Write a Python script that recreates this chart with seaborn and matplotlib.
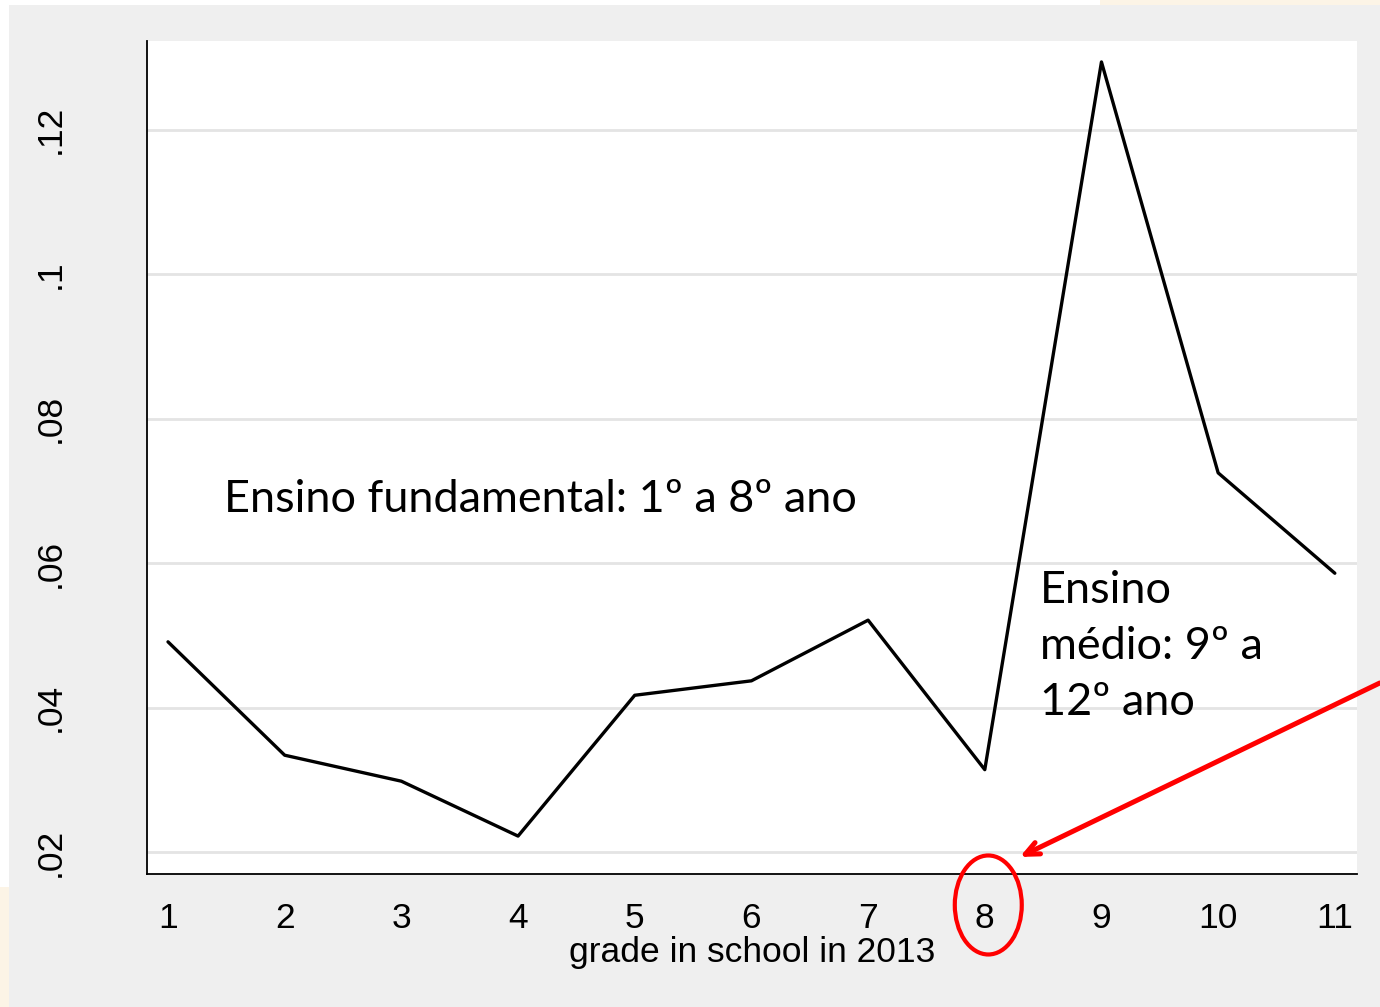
import numpy as np
import pandas as pd
import seaborn as sns
import matplotlib
matplotlib.use('Agg')
from matplotlib import pyplot as plt
from matplotlib.patches import Ellipse, Rectangle

# 数据
grades = [1, 2, 3, 4, 5, 6, 7, 8, 9, 10, 11]
values = [0.0491, 0.0334, 0.0298, 0.0222, 0.0417, 0.0437, 0.0521, 0.0314, 0.1294, 0.0725, 0.0586]
ytick_vals = [0.02, 0.04, 0.06, 0.08, 0.10, 0.12]
ytick_labels = ['.02', '.04', '.06', '.08', '.1', '.12']

df = pd.DataFrame({'grade': grades, 'value': values})

sns.set_style("white")
plt.rcParams['font.family'] = ['Liberation Sans', 'DejaVu Sans']
plt.rcParams['text.color'] = 'black'
plt.rcParams['axes.labelcolor'] = 'black'
plt.rcParams['xtick.color'] = 'black'
plt.rcParams['ytick.color'] = 'black'

fig = plt.figure(figsize=(13.8, 10.07), dpi=100, facecolor='white')

# 背景（幻灯片的灰色面板和米色角落）
fig.patches.append(Rectangle((0, 0), 9 / 1380, 120 / 1007, transform=fig.transFigure,
                             facecolor='#fcf4e6', edgecolor='none', zorder=-3))
fig.patches.append(Rectangle((1100 / 1380, 1002 / 1007), 280 / 1380, 5 / 1007, transform=fig.transFigure,
                             facecolor='#fcf4e6', edgecolor='none', zorder=-3))
fig.patches.append(Rectangle((9 / 1380, 0), 1 - 9 / 1380, 1002 / 1007, transform=fig.transFigure,
                             facecolor='#efefef', edgecolor='none', zorder=-2))

ax = fig.add_axes([147 / 1380, 133 / 1007, 1210 / 1380, 833 / 1007])
ax.set_facecolor('white')

sns.lineplot(data=df, x='grade', y='value', color='black', linewidth=2.4, ax=ax)

ax.set_xlim(0.82, 11.19)
ax.set_ylim(0.01695, 0.1323)
ax.set_xticks(grades)
ax.set_xticklabels([str(g) for g in grades], fontsize=25.5)
ax.set_yticks(ytick_vals)
ax.set_yticklabels(ytick_labels, fontsize=25.5, rotation=90, va='center')
ax.yaxis.grid(True, color='#e4e4e4', linewidth=2)
ax.set_axisbelow(True)

for s in ['top', 'right']:
    ax.spines[s].set_visible(False)
for s in ['left', 'bottom']:
    ax.spines[s].set_color('black')
    ax.spines[s].set_linewidth(1.3)
ax.tick_params(axis='both', direction='out', length=10, width=1.3, color='black')
ax.tick_params(axis='y', pad=48)
ax.tick_params(axis='x', pad=10)

ax.set_xlabel('grade in school in 2013', fontsize=25.5, labelpad=1)
ax.set_ylabel('')

# 注释文字
ax.text(1.48, 0.0688, 'Ensino fundamental: 1º a 8º ano', fontsize=32.4,
        family=['Lato', 'DejaVu Sans'], va='center', ha='left', color='black')
ax.text(8.47, 0.0485, 'Ensino\nmédio: 9º a\n12º ano', fontsize=32.4,
        family=['Lato', 'DejaVu Sans'], va='center', ha='left', linespacing=1.45, color='black')

# 红色圆圈和箭头
ax.add_patch(Ellipse((8.03, 0.01266), 0.574, 0.01371, fill=False, edgecolor='#ff0000',
                     linewidth=3, clip_on=False, zorder=5))
ax.annotate('', xy=(8.30, 0.01931), xytext=(11.385, 0.0434), annotation_clip=False,
            arrowprops=dict(arrowstyle='->,head_length=1.0,head_width=0.45', color='#ff0000',
                            linewidth=3.6, shrinkA=0, shrinkB=0))

plt.savefig('out.png', dpi=100, facecolor=fig.get_facecolor())
